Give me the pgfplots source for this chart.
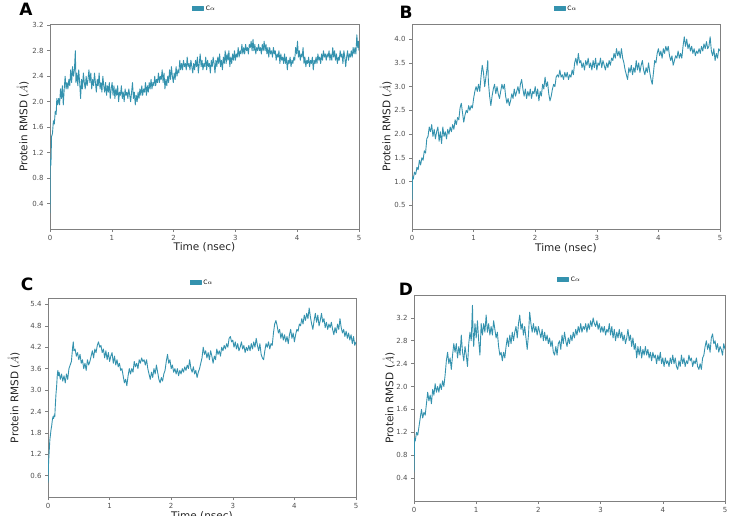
\documentclass[border=0pt]{standalone}
\usepackage{fontspec}
\setmainfont{DejaVu Sans}
\usepackage{pgfplots}
\usepackage{pgfplotstable}
\pgfplotsset{compat=1.18}
\definecolor{rmsd}{RGB}{52,146,174}
\definecolor{frame}{RGB}{128,128,128}
\definecolor{ticktext}{RGB}{80,80,80}

\pgfplotstableread{
x y
0 0.25
0.005 1.1
0.015 1.0
0.025 1.45
0.04 1.5
0.055 1.7
0.07 1.65
0.085 1.85
0.1 1.8
0.11 2.05
0.125 1.95
0.14 2.05
0.155 1.95
0.17 2.2
0.185 2.05
0.2 2.25
0.215 1.95
0.23 2.2
0.245 2.4
0.26 2.2
0.275 2.3
0.29 2.2
0.305 2.35
0.32 2.25
0.335 2.5
0.35 2.3
0.365 2.55
0.38 2.4
0.395 2.5
0.41 2.8
0.42 2.3
0.435 2.45
0.45 2.25
0.465 2.5
0.48 2.3
0.495 2.05
0.51 2.35
0.525 2.2
0.54 2.45
0.555 2.3
0.57 2.2
0.585 2.4
0.6 2.25
0.615 2.35
0.63 2.5
0.645 2.3
0.66 2.45
0.675 2.2
0.69 2.35
0.705 2.25
0.72 2.45
0.735 2.3
0.75 2.15
0.765 2.35
0.78 2.25
0.795 2.45
0.81 2.2
0.825 2.3
0.84 2.15
0.855 2.4
0.87 2.25
0.885 2.15
0.9 2.3
0.915 2.1
0.93 2.25
0.945 2.15
0.96 2.3
0.975 2.05
0.99 2.2
1.005 2.3
1.02 2.1
1.035 2.25
1.05 2.05
1.065 2.2
1.08 2.1
1.095 2.25
1.11 2.0
1.125 2.15
1.14 2.1
1.155 2.25
1.17 2.05
1.185 2.15
1.2 2.0
1.215 2.2
1.23 2.1
1.245 2.15
1.26 2.05
1.275 2.2
1.29 2.1
1.305 2.0
1.32 2.15
1.335 2.3
1.35 2.05
1.365 2.15
1.38 1.95
1.395 2.1
1.41 2.0
1.425 2.15
1.44 2.05
1.455 2.2
1.47 2.1
1.485 2.25
1.5 2.1
1.515 2.2
1.53 2.15
1.545 2.3
1.56 2.1
1.575 2.25
1.59 2.15
1.605 2.3
1.62 2.2
1.635 2.35
1.65 2.2
1.665 2.3
1.68 2.25
1.695 2.4
1.71 2.25
1.725 2.35
1.74 2.3
1.755 2.45
1.77 2.3
1.785 2.4
1.8 2.35
1.815 2.5
1.83 2.3
1.845 2.45
1.86 2.2
1.875 2.35
1.89 2.25
1.905 2.4
1.92 2.3
1.935 2.5
1.95 2.35
1.965 2.55
1.98 2.4
1.995 2.3
2.01 2.45
2.025 2.35
2.04 2.55
2.055 2.4
2.07 2.5
2.085 2.45
2.1 2.65
2.115 2.5
2.13 2.6
2.145 2.5
2.16 2.65
2.175 2.55
2.19 2.6
2.205 2.5
2.22 2.7
2.235 2.55
2.25 2.6
2.265 2.5
2.28 2.65
2.295 2.55
2.31 2.45
2.325 2.6
2.34 2.5
2.355 2.65
2.37 2.55
2.385 2.7
2.4 2.45
2.415 2.6
2.43 2.75
2.445 2.55
2.46 2.65
2.475 2.5
2.49 2.6
2.505 2.55
2.52 2.7
2.535 2.5
2.55 2.65
2.565 2.55
2.58 2.6
2.595 2.45
2.61 2.65
2.625 2.55
2.64 2.7
2.655 2.6
2.67 2.45
2.685 2.65
2.7 2.55
2.715 2.7
2.73 2.6
2.745 2.75
2.76 2.55
2.775 2.65
2.79 2.5
2.805 2.7
2.82 2.6
2.835 2.8
2.85 2.6
2.865 2.75
2.88 2.65
2.895 2.8
2.91 2.55
2.925 2.7
2.94 2.6
2.955 2.75
2.97 2.65
2.985 2.8
3.0 2.65
3.015 2.75
3.03 2.7
3.045 2.85
3.06 2.7
3.075 2.8
3.09 2.75
3.105 2.9
3.12 2.75
3.135 2.85
3.15 2.75
3.165 2.9
3.18 2.8
3.195 2.85
3.21 2.75
3.225 2.9
3.24 2.85
3.255 2.95
3.27 2.8
3.285 2.98
3.3 2.8
3.315 2.9
3.33 2.75
3.345 2.85
3.36 2.8
3.375 2.9
3.39 2.8
3.405 2.85
3.42 2.75
3.435 2.9
3.45 2.8
3.465 2.95
3.48 2.8
3.495 2.9
3.51 2.75
3.525 2.85
3.54 2.7
3.555 2.85
3.57 2.75
3.585 2.8
3.6 2.7
3.615 2.85
3.63 2.75
3.645 2.8
3.66 2.65
3.675 2.75
3.69 2.7
3.705 2.8
3.72 2.6
3.735 2.75
3.75 2.65
3.765 2.7
3.78 2.6
3.795 2.75
3.81 2.6
3.825 2.7
3.84 2.5
3.855 2.65
3.87 2.6
3.885 2.7
3.9 2.55
3.915 2.65
3.93 2.6
3.945 2.7
3.96 2.65
3.975 2.85
3.99 2.75
4.005 2.95
4.02 2.7
4.035 2.8
4.05 2.65
4.065 2.75
4.08 2.7
4.095 2.85
4.11 2.6
4.125 2.7
4.14 2.55
4.155 2.65
4.17 2.6
4.185 2.7
4.2 2.55
4.215 2.65
4.23 2.6
4.245 2.7
4.26 2.5
4.275 2.65
4.29 2.6
4.305 2.7
4.32 2.6
4.335 2.75
4.35 2.65
4.365 2.7
4.38 2.6
4.395 2.75
4.41 2.65
4.425 2.8
4.44 2.7
4.455 2.75
4.47 2.65
4.485 2.75
4.5 2.7
4.515 2.8
4.53 2.65
4.545 2.75
4.56 2.65
4.575 2.85
4.59 2.7
4.605 2.8
4.62 2.65
4.635 2.75
4.65 2.6
4.665 2.7
4.68 2.65
4.695 2.8
4.71 2.7
4.725 2.75
4.74 2.6
4.755 2.8
4.77 2.7
4.785 2.55
4.8 2.7
4.815 2.8
4.83 2.65
4.845 2.75
4.86 2.7
4.875 2.8
4.89 2.7
4.905 2.85
4.92 2.75
4.935 2.85
4.95 2.75
4.965 3.05
4.98 2.85
4.99 2.95
5.0 2.8
}\dataA

\pgfplotstableread{
x y
0 0.6
0.01 1.1
0.02 1.05
0.04 1.2
0.06 1.15
0.08 1.3
0.1 1.25
0.12 1.45
0.14 1.35
0.16 1.5
0.18 1.45
0.2 1.65
0.22 1.6
0.24 1.9
0.26 1.95
0.28 2.15
0.3 2.05
0.32 2.2
0.34 1.95
0.36 2.1
0.38 1.9
0.4 2.05
0.42 2.15
0.44 1.85
0.46 2.05
0.48 1.8
0.5 2.15
0.52 1.95
0.54 2.05
0.56 1.9
0.58 2.1
0.6 2.0
0.62 2.15
0.64 2.05
0.66 2.2
0.68 2.1
0.7 2.3
0.72 2.2
0.74 2.35
0.76 2.3
0.78 2.55
0.8 2.65
0.82 2.45
0.84 2.25
0.86 2.4
0.88 2.5
0.9 2.45
0.92 2.6
0.94 2.5
0.96 2.6
0.98 2.55
1.0 2.75
1.02 2.9
1.04 3.0
1.06 2.9
1.08 3.05
1.1 2.9
1.12 3.2
1.14 3.45
1.16 3.3
1.18 3.0
1.2 3.2
1.22 3.4
1.23 3.55
1.24 3.1
1.26 2.8
1.28 2.6
1.3 2.8
1.32 2.95
1.34 3.05
1.36 2.85
1.38 3.0
1.4 2.85
1.42 2.75
1.44 2.9
1.46 3.05
1.48 2.95
1.5 3.05
1.52 2.8
1.54 2.65
1.56 2.75
1.58 2.6
1.6 2.7
1.62 2.85
1.64 2.75
1.66 2.95
1.68 2.8
1.7 2.9
1.72 3.0
1.74 2.85
1.76 3.05
1.78 3.15
1.8 2.95
1.82 2.8
1.84 2.95
1.86 2.75
1.88 2.9
1.9 2.8
1.92 2.95
1.94 2.75
1.96 2.9
1.98 2.85
2.0 3.0
2.02 2.8
2.04 2.95
2.06 2.7
2.08 2.9
2.1 2.8
2.12 3.05
2.14 2.95
2.16 3.2
2.18 3.0
2.2 3.1
2.22 2.85
2.24 2.7
2.26 2.8
2.28 2.95
2.3 3.05
2.32 3.0
2.34 3.2
2.36 3.25
2.38 3.2
2.4 3.35
2.42 3.2
2.44 3.25
2.46 3.15
2.48 3.3
2.5 3.2
2.52 3.3
2.54 3.15
2.56 3.25
2.58 3.2
2.6 3.35
2.62 3.25
2.64 3.5
2.66 3.6
2.68 3.45
2.7 3.7
2.72 3.5
2.74 3.55
2.76 3.4
2.78 3.5
2.8 3.35
2.82 3.55
2.84 3.45
2.86 3.6
2.88 3.4
2.9 3.5
2.92 3.35
2.94 3.55
2.96 3.4
2.98 3.6
3.0 3.35
3.02 3.5
3.04 3.45
3.06 3.6
3.08 3.4
3.1 3.55
3.12 3.45
3.14 3.35
3.16 3.5
3.18 3.4
3.2 3.55
3.22 3.45
3.24 3.6
3.26 3.55
3.28 3.7
3.3 3.6
3.32 3.8
3.34 3.65
3.36 3.75
3.38 3.6
3.4 3.8
3.42 3.6
3.44 3.5
3.46 3.35
3.48 3.25
3.5 3.15
3.52 3.4
3.54 3.3
3.56 3.45
3.58 3.25
3.6 3.4
3.62 3.3
3.64 3.55
3.66 3.35
3.68 3.5
3.7 3.3
3.72 3.45
3.74 3.55
3.76 3.35
3.78 3.25
3.8 3.4
3.82 3.3
3.84 3.5
3.86 3.3
3.88 3.15
3.9 3.05
3.92 3.3
3.94 3.55
3.96 3.5
3.98 3.7
4.0 3.8
4.02 3.65
4.04 3.75
4.06 3.6
4.08 3.8
4.1 3.7
4.12 3.85
4.14 3.75
4.16 3.85
4.18 3.65
4.2 3.55
4.22 3.65
4.24 3.45
4.26 3.55
4.28 3.65
4.3 3.6
4.32 3.75
4.34 3.6
4.36 3.7
4.38 3.6
4.4 3.85
4.42 4.05
4.44 3.85
4.46 4.0
4.48 3.8
4.5 3.9
4.52 3.75
4.54 3.85
4.56 3.7
4.58 3.8
4.6 3.65
4.62 3.75
4.64 3.7
4.66 3.8
4.68 3.7
4.7 3.85
4.72 3.75
4.74 3.9
4.76 3.8
4.78 3.95
4.8 3.8
4.82 3.85
4.84 4.05
4.86 3.75
4.88 3.65
4.9 3.8
4.92 3.55
4.94 3.7
4.96 3.6
4.98 3.8
5.0 3.75
}\dataB

\pgfplotstableread{
x y
0 0.4
0.01 1.0
0.02 1.3
0.03 1.6
0.04 1.75
0.05 1.9
0.06 2.0
0.07 2.15
0.08 2.25
0.09 2.2
0.1 2.3
0.11 2.25
0.12 2.6
0.13 2.9
0.14 3.1
0.15 3.4
0.16 3.55
0.17 3.4
0.18 3.5
0.2 3.3
0.22 3.45
0.24 3.25
0.26 3.4
0.28 3.2
0.3 3.45
0.32 3.3
0.34 3.6
0.36 3.7
0.38 3.8
0.4 4.2
0.41 4.35
0.42 4.1
0.44 4.15
0.46 3.95
0.48 4.05
0.5 3.85
0.52 4.0
0.54 3.75
0.56 3.85
0.58 3.6
0.6 3.75
0.62 3.55
0.64 3.85
0.66 3.7
0.68 3.8
0.7 3.95
0.72 4.1
0.74 3.9
0.76 4.15
0.78 4.05
0.8 4.25
0.82 4.35
0.84 4.2
0.86 4.25
0.88 4.05
0.9 4.15
0.92 3.9
0.94 4.1
0.96 3.85
0.98 4.05
1.0 3.8
1.02 3.95
1.04 4.05
1.06 3.75
1.08 3.95
1.1 3.7
1.12 3.85
1.14 3.65
1.16 3.75
1.18 3.55
1.2 3.6
1.22 3.4
1.24 3.2
1.26 3.3
1.28 3.12
1.3 3.4
1.32 3.6
1.34 3.45
1.36 3.6
1.38 3.5
1.4 3.8
1.42 3.65
1.44 3.75
1.46 3.6
1.48 3.85
1.5 3.75
1.52 3.9
1.54 3.8
1.56 3.85
1.58 3.7
1.6 3.85
1.62 3.6
1.64 3.45
1.66 3.3
1.68 3.5
1.7 3.35
1.72 3.6
1.74 3.45
1.76 3.7
1.78 3.5
1.8 3.3
1.82 3.2
1.84 3.35
1.86 3.25
1.88 3.45
1.9 3.55
1.92 3.8
1.94 4.0
1.96 3.75
1.98 3.85
2.0 3.6
2.02 3.7
2.04 3.5
2.06 3.6
2.08 3.45
2.1 3.6
2.12 3.4
2.14 3.55
2.16 3.45
2.18 3.6
2.2 3.5
2.22 3.65
2.24 3.55
2.26 3.7
2.28 3.6
2.3 3.85
2.32 3.6
2.34 3.5
2.36 3.65
2.38 3.45
2.4 3.55
2.42 3.35
2.44 3.5
2.46 3.6
2.48 3.75
2.5 3.9
2.52 4.2
2.54 4.0
2.56 4.1
2.58 3.9
2.6 4.05
2.62 3.85
2.64 4.1
2.66 3.95
2.68 3.75
2.7 3.95
2.72 3.85
2.74 4.15
2.76 4.0
2.78 4.1
2.8 3.95
2.82 4.2
2.84 4.1
2.86 4.25
2.88 4.15
2.9 4.3
2.92 4.2
2.94 4.45
2.96 4.5
2.98 4.35
3.0 4.4
3.02 4.2
3.04 4.35
3.06 4.15
3.08 4.3
3.1 4.1
3.12 4.2
3.14 4.35
3.16 4.15
3.18 4.25
3.2 4.05
3.22 4.2
3.24 4.1
3.26 4.25
3.28 4.1
3.3 4.3
3.32 4.15
3.34 4.35
3.36 4.2
3.38 4.45
3.4 4.25
3.42 4.1
3.44 4.3
3.46 4.0
3.48 3.9
3.5 3.85
3.52 4.1
3.54 4.3
3.56 4.2
3.58 4.35
3.6 4.15
3.62 4.3
3.64 4.25
3.66 4.6
3.68 4.85
3.7 4.95
3.72 4.8
3.74 4.6
3.76 4.7
3.78 4.45
3.8 4.6
3.82 4.4
3.84 4.55
3.86 4.35
3.88 4.5
3.9 4.3
3.92 4.55
3.94 4.7
3.96 4.45
3.98 4.6
4.0 4.35
4.02 4.55
4.04 4.7
4.06 4.65
4.08 4.85
4.1 4.8
4.12 5.0
4.14 4.85
4.16 5.1
4.18 4.95
4.2 5.15
4.22 5.0
4.24 5.3
4.26 5.05
4.28 4.85
4.3 4.7
4.32 4.95
4.34 5.15
4.36 4.9
4.38 5.1
4.4 4.8
4.42 4.95
4.44 5.15
4.46 4.9
4.48 5.0
4.5 4.75
4.52 4.9
4.54 4.7
4.56 4.85
4.58 4.75
4.6 4.9
4.62 4.7
4.64 4.55
4.66 4.75
4.68 4.6
4.7 4.85
4.72 4.7
4.74 5.0
4.76 4.75
4.78 4.6
4.8 4.7
4.82 4.5
4.84 4.65
4.86 4.45
4.88 4.6
4.9 4.4
4.92 4.55
4.94 4.3
4.96 4.5
4.98 4.25
5.0 4.35
}\dataC

\pgfplotstableread{
x y
0 0.5
0.01 1.1
0.02 1.05
0.04 1.2
0.06 1.15
0.08 1.3
0.1 1.45
0.12 1.6
0.14 1.45
0.16 1.55
0.18 1.5
0.2 1.7
0.22 1.9
0.24 1.75
0.26 1.85
0.28 1.7
0.3 1.95
0.32 1.85
0.34 2.05
0.36 1.9
0.38 2.0
0.4 1.9
0.42 2.05
0.44 1.95
0.46 2.1
0.48 2.0
0.5 2.2
0.52 2.45
0.54 2.6
0.56 2.4
0.58 2.5
0.6 2.3
0.62 2.55
0.64 2.75
0.66 2.6
0.68 2.75
0.7 2.5
0.72 2.7
0.74 2.55
0.76 2.9
0.78 2.6
0.8 2.45
0.82 2.7
0.84 2.55
0.86 2.35
0.88 2.75
0.9 2.95
0.92 2.8
0.94 3.42
0.95 2.9
0.96 2.7
0.98 3.1
1.0 2.85
1.02 3.15
1.04 2.8
1.06 2.55
1.08 3.1
1.1 2.9
1.12 3.1
1.14 2.95
1.16 3.25
1.18 2.95
1.2 3.1
1.22 2.9
1.24 3.05
1.26 2.9
1.28 3.15
1.3 3.0
1.32 2.85
1.34 2.95
1.36 2.7
1.38 2.55
1.4 2.6
1.42 2.45
1.44 2.6
1.46 2.5
1.48 2.7
1.5 2.85
1.52 2.7
1.54 2.9
1.56 2.75
1.58 2.95
1.6 2.8
1.62 2.95
1.64 3.05
1.66 2.85
1.68 3.1
1.7 3.25
1.72 3.0
1.74 3.1
1.76 2.9
1.78 3.05
1.8 2.85
1.82 2.65
1.84 2.9
1.86 3.3
1.88 3.1
1.9 2.95
1.92 3.1
1.94 2.95
1.96 3.05
1.98 2.9
2.0 3.05
2.02 2.95
2.04 2.85
2.06 3.0
2.08 2.8
2.1 2.95
2.12 2.8
2.14 2.9
2.16 2.75
2.18 2.85
2.2 2.7
2.22 2.8
2.24 2.6
2.26 2.55
2.28 2.7
2.3 2.55
2.32 2.75
2.34 2.8
2.36 2.65
2.38 2.9
2.4 2.75
2.42 2.95
2.44 2.8
2.46 2.7
2.48 2.85
2.5 2.75
2.52 2.9
2.54 2.8
2.56 2.95
2.58 2.85
2.6 3.0
2.62 2.9
2.64 3.05
2.66 2.95
2.68 3.1
2.7 2.95
2.72 3.05
2.74 3.0
2.76 3.1
2.78 2.95
2.8 3.1
2.82 3.0
2.84 3.15
2.86 3.05
2.88 3.2
2.9 3.1
2.92 3.05
2.94 3.15
2.96 3.0
2.98 3.1
3.0 2.95
3.02 3.05
3.04 2.95
3.06 3.05
3.08 2.9
3.1 3.0
3.12 2.95
3.14 3.1
3.16 2.9
3.18 3.05
3.2 2.85
3.22 3.0
3.24 2.8
3.26 2.95
3.28 2.85
3.3 3.0
3.32 2.85
3.34 2.95
3.36 2.8
3.38 2.9
3.4 2.75
3.42 2.85
3.44 3.0
3.46 2.8
3.48 2.9
3.5 2.7
3.52 2.85
3.54 2.65
3.56 2.75
3.58 2.5
3.6 2.7
3.62 2.55
3.64 2.7
3.66 2.5
3.68 2.65
3.7 2.55
3.72 2.7
3.74 2.55
3.76 2.65
3.78 2.5
3.8 2.6
3.82 2.45
3.84 2.6
3.86 2.5
3.88 2.55
3.9 2.4
3.92 2.55
3.94 2.45
3.96 2.6
3.98 2.4
4.0 2.5
4.02 2.35
4.04 2.5
4.06 2.4
4.08 2.45
4.1 2.35
4.12 2.5
4.14 2.4
4.16 2.55
4.18 2.4
4.2 2.5
4.22 2.35
4.24 2.3
4.26 2.45
4.28 2.35
4.3 2.55
4.32 2.4
4.34 2.5
4.36 2.35
4.38 2.45
4.4 2.4
4.42 2.55
4.44 2.45
4.46 2.5
4.48 2.35
4.5 2.45
4.52 2.4
4.54 2.5
4.56 2.35
4.58 2.3
4.6 2.4
4.62 2.3
4.64 2.5
4.66 2.55
4.68 2.7
4.7 2.8
4.72 2.65
4.74 2.75
4.76 2.6
4.78 2.85
4.8 2.92
4.82 2.75
4.84 2.8
4.86 2.65
4.88 2.75
4.9 2.6
4.92 2.7
4.94 2.65
4.96 2.55
4.98 2.75
5.0 2.65
}\dataD

\pgfplotsset{
  panel/.style={
    scale only axis,
    xmin=0, xmax=5, ymin=0,
    xtick={0,1,2,3,4,5},
    axis line style={frame, line width=0.8pt},
    tick style={frame, line width=0.6pt},
    tick align=outside, tick pos=left,
    major tick length=3pt,
    tick label style={font=\fontsize{7}{8}\selectfont, text=ticktext},
    /pgf/number format/assume math mode=true,
    yticklabel style={/pgf/number format/fixed, /pgf/number format/fixed zerofill, /pgf/number format/precision=1},
    xticklabel style={/pgf/number format/fixed},
    xlabel={Time (nsec)},
    ylabel={Protein RMSD ($\mathring{A}$)},
    label style={font=\fontsize{10.5}{12}\selectfont, text=black!85},
    legend style={at={([yshift=9pt]axis description cs:0.5,1)}, anchor=south, draw=none, fill=white,
      font=\fontsize{6}{7}\selectfont, inner sep=1pt, row sep=0pt},
    legend image code/.code={\fill[fill=rmsd] (0pt,-2pt) rectangle (11pt,2pt);},
  },
  rmsdline/.style={draw=rmsd, no markers, line width=0.9pt, line join=round},
}

\begin{document}
\begin{tikzpicture}[x=1pt,y=1pt]
\useasboundingbox (0,0) rectangle (733,515);
\clip (0,0) rectangle (733,515);

% Panel A
\begin{axis}[panel, at={(50pt,286pt)}, anchor=south west, width=309pt, height=205pt,
  ymax=3.22, ytick={0.4,0.8,...,3.21},
  xlabel style={at={([yshift=-18pt]axis description cs:0.5,0)}, anchor=center},
  ylabel style={at={([xshift=-27pt]axis description cs:0,0.5)}, anchor=center}]
\addplot[rmsdline] table[x=x,y=y] {\dataA};
\addlegendentry{C$\alpha$}
\end{axis}

% Panel B
\begin{axis}[panel, at={(412pt,286pt)}, anchor=south west, width=308pt, height=205pt,
  ymax=4.32, ytick={0.5,1.0,...,4.01},
  xlabel style={at={([yshift=-19pt]axis description cs:0.5,0)}, anchor=center},
  ylabel style={at={([xshift=-26pt]axis description cs:0,0.5)}, anchor=center}]
\addplot[rmsdline] table[x=x,y=y] {\dataB};
\addlegendentry{C$\alpha$}
\end{axis}

% Panel C
\begin{axis}[panel, at={(48pt,18pt)}, anchor=south west, width=308pt, height=199pt,
  ymax=5.58, ytick={0.6,1.2,...,5.41},
  xlabel style={at={([yshift=-19pt]axis description cs:0.5,0)}, anchor=center},
  ylabel style={at={([xshift=-34pt]axis description cs:0,0.5)}, anchor=center}]
\addplot[rmsdline] table[x=x,y=y] {\dataC};
\addlegendentry{C$\alpha$}
\end{axis}

% Panel D
\begin{axis}[panel, at={(414pt,14pt)}, anchor=south west, width=311pt, height=206pt,
  ymax=3.6, ytick={0.4,0.8,...,3.21},
  xlabel={},
  ylabel style={at={([xshift=-25pt]axis description cs:0,0.5)}, anchor=center}]
\addplot[rmsdline] table[x=x,y=y] {\dataD};
\addlegendentry{C$\alpha$}
\end{axis}

\node[font=\fontsize{17}{18}\selectfont\bfseries] at (26,506) {A};
\node[font=\fontsize{17}{18}\selectfont\bfseries] at (406,503) {B};
\node[font=\fontsize{17}{18}\selectfont\bfseries] at (27,231) {C};
\node[font=\fontsize{17}{18}\selectfont\bfseries] at (406,226) {D};
\end{tikzpicture}
\end{document}
